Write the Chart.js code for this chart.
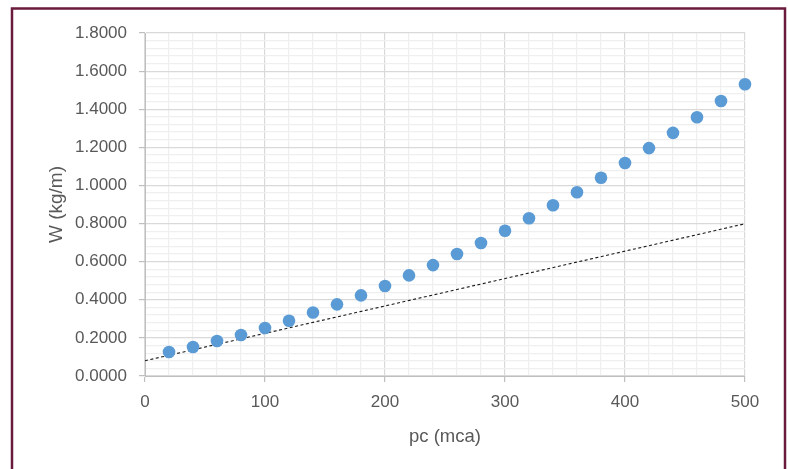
<!DOCTYPE html>
<html>
<head>
<meta charset="utf-8">
<script src="https://cdn.jsdelivr.net/npm/chart.js@4/dist/chart.umd.min.js"></script>
<style>
  html, body { margin: 0; padding: 0; background: #ffffff; }
  #wrap { position: relative; width: 788px; height: 469px; }
</style>
</head>
<body>
<div id="wrap"><canvas id="c" width="788" height="469"></canvas></div>
<script>
// Data
const pcValues = [20, 40, 60, 80, 100, 120, 140, 160, 180, 200, 220, 240, 260, 280, 300, 320, 340, 360, 380, 400, 420, 440, 460, 480, 500];
const wValues = [0.126, 0.152, 0.184, 0.215, 0.252, 0.290, 0.333, 0.376, 0.423, 0.472, 0.528, 0.582, 0.640, 0.698, 0.762, 0.828, 0.896, 0.964, 1.040, 1.118, 1.196, 1.276, 1.358, 1.443, 1.531];
const trendX = [0, 500];
const trendY = [0.080, 0.799];
const xTickLabels = ['0', '100', '200', '300', '400', '500'];
const yTickLabels = ['0.0000', '0.2000', '0.4000', '0.6000', '0.8000', '1.0000', '1.2000', '1.4000', '1.6000', '1.8000'];
const xTitle = 'pc (mca)';
const yTitle = 'W (kg/m)';

const scatterData = pcValues.map((x, i) => ({ x: x, y: wValues[i] }));
const trendData = trendX.map((x, i) => ({ x: x, y: trendY[i] }));

const FONT = 'Liberation Sans, Arial, sans-serif';
const isMajor = (v, step) => Math.abs(v / step - Math.round(v / step)) < 1e-6;

const framePlugin = {
  id: 'frame',
  beforeDraw(chart) {
    const ctx = chart.ctx;
    ctx.save();
    ctx.fillStyle = '#ffffff';
    ctx.fillRect(0, 0, chart.width, chart.height);
    ctx.strokeStyle = '#6a1a3c';
    ctx.lineWidth = 2.5;
    ctx.strokeRect(12, 8.5, 773, 480);
    ctx.restore();
  }
};

new Chart(document.getElementById('c'), {
  type: 'scatter',
  data: {
    datasets: [
      {
        label: 'W',
        data: scatterData,
        backgroundColor: '#5b9bd5',
        borderColor: '#5b9bd5',
        pointRadius: 6.3,
        pointHoverRadius: 6.3,
        borderWidth: 0,
        showLine: false,
        clip: false
      },
      {
        label: 'trend',
        data: trendData,
        showLine: true,
        borderColor: '#1a1a1a',
        borderWidth: 1.1,
        borderDash: [3, 2.5],
        pointRadius: 0,
        fill: false
      }
    ]
  },
  options: {
    responsive: false,
    animation: false,
    events: [],
    layout: { padding: { left: 0, top: 33, right: 43, bottom: 0 } },
    plugins: {
      legend: { display: false },
      tooltip: { enabled: false }
    },
    scales: {
      x: {
        type: 'linear',
        min: 0,
        max: 500,
        afterFit(scale) { scale.height = 93; },
        border: { color: '#bfbfbf', width: 1 },
        grid: {
          color: ctx => isMajor(ctx.tick.value, 100) ? '#d9d9d9' : '#efefef',
          lineWidth: 1.2,
          tickColor: ctx => isMajor(ctx.tick.value, 100) ? '#bfbfbf' : 'rgba(0,0,0,0)',
          tickLength: 6,
          drawTicks: true
        },
        ticks: {
          stepSize: 20,
          autoSkip: false,
          maxRotation: 0,
          padding: 10,
          color: '#595959',
          font: { family: FONT, size: 17 },
          callback: v => isMajor(v, 100) ? xTickLabels[Math.round(v / 100)] : ''
        },
        title: {
          display: true,
          text: xTitle,
          color: '#595959',
          font: { family: FONT, size: 18.5 },
          padding: { top: 0, bottom: 21 }
        }
      },
      y: {
        type: 'linear',
        min: 0,
        max: 1.8,
        afterFit(scale) { scale.width = 145; },
        border: { color: '#bfbfbf', width: 1 },
        grid: {
          color: ctx => isMajor(ctx.tick.value, 0.2) ? '#d9d9d9' : '#efefef',
          lineWidth: 1.2,
          tickColor: ctx => isMajor(ctx.tick.value, 0.2) ? '#bfbfbf' : 'rgba(0,0,0,0)',
          tickLength: 6,
          drawTicks: true
        },
        ticks: {
          stepSize: 0.04,
          autoSkip: false,
          padding: 12,
          color: '#595959',
          font: { family: FONT, size: 17 },
          callback: v => isMajor(v, 0.2) ? yTickLabels[Math.round(v / 0.2)] : ''
        },
        title: {
          display: true,
          text: yTitle,
          color: '#595959',
          font: { family: FONT, size: 19 },
          padding: { top: 45, bottom: 0 }
        }
      }
    }
  },
  plugins: [framePlugin]
});
</script>
</body>
</html>
